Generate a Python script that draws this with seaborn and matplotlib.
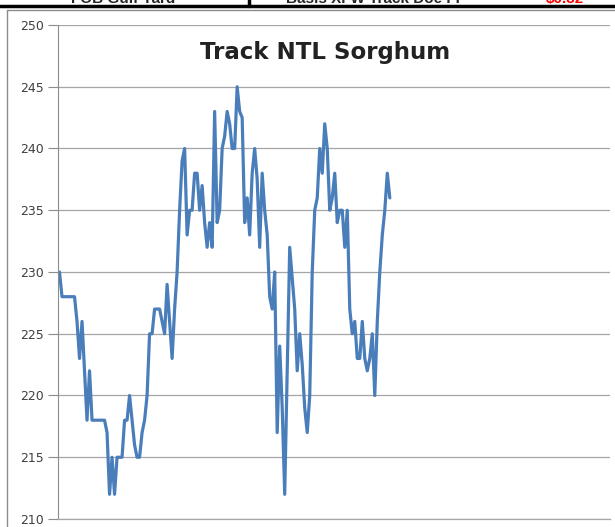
import pandas as pd
import matplotlib
matplotlib.use('Agg')
import matplotlib.pyplot as plt
import seaborn as sns

# prices, one per trading day
prices = [230, 228, 228, 228, 228, 228, 228, 226, 223, 226,
          222, 218, 222, 218, 218, 218, 218, 218, 218, 217,
          212, 215, 212, 215, 215, 215, 218, 218, 220, 218,
          216, 215, 215, 217, 218, 220, 225, 225, 227, 227,
          227, 226, 225, 229, 226, 223, 227, 230, 235, 239,
          240, 233, 235, 235, 238, 238, 235, 237, 234, 232,
          234, 232, 243, 234, 235, 240, 241, 243, 242, 240,
          240, 245, 243, 242.5, 234, 236, 233, 238, 240, 237.5,
          232, 238, 235, 233, 228, 227, 230, 217, 224, 219,
          212, 222, 232, 229.5, 227, 222, 225, 222.5, 219, 217,
          220, 230, 235, 236, 240, 238, 242, 240, 235, 236,
          238, 234, 235, 235, 232, 235, 227, 225, 226, 223,
          223, 226, 223, 222, 223, 225, 220, 226, 230, 233,
          235, 238, 236]
y_ticks = [210, 215, 220, 225, 230, 235, 240, 245, 250]

df = pd.DataFrame({'day': range(len(prices)), 'price': prices})

sns.set_style('white')
plt.rcParams['font.family'] = ['DejaVu Sans']

fig = plt.figure(figsize=(6.15, 5.27), dpi=100)
ax = fig.add_axes([58 / 615, 1 - 519 / 527, 552 / 615, 494 / 527])

sns.lineplot(data=df, x='day', y='price', color='#4A7EBB', linewidth=2.3, ax=ax)

ax.set_ylim(210, 250)
ax.set_xlim(-0.6, 220)
ax.set_yticks(y_ticks)
ax.set_yticklabels([str(t) for t in y_ticks], fontsize=9, color='#404040')
ax.set_xticks([])
ax.set_xlabel('')
ax.set_ylabel('')
ax.grid(axis='y', color='#A6A6A6', linewidth=0.9)
ax.tick_params(axis='y', length=7, width=0.8, color='#8C8C8C', pad=3, left=True)
for side in ['top', 'right']:
    ax.spines[side].set_visible(False)
ax.spines['left'].set_color('#8C8C8C')
ax.spines['left'].set_linewidth(0.8)
ax.spines['bottom'].set_color('#A6A6A6')
ax.spines['bottom'].set_linewidth(0.9)

fig.text(325 / 615, 1 - 53 / 527, 'Track NTL Sorghum', ha='center', va='center',
         fontsize=16.5, fontweight='bold', color='#222222')

# chart border and the cut-off table header above it
fig.add_artist(plt.Line2D([7 / 615, 7 / 615], [0, 1 - 10 / 527], color='#8C8C8C', lw=1))
fig.add_artist(plt.Line2D([7 / 615, 1], [1 - 10 / 527, 1 - 10 / 527], color='#8C8C8C', lw=1))
fig.add_artist(plt.Line2D([0, 1], [1 - 6 / 527, 1 - 6 / 527], color='black', lw=2.5))
fig.add_artist(plt.Line2D([249 / 615, 249 / 615], [1 - 6 / 527, 1], color='black', lw=2.5))
fig.text(123 / 615, 1 - 3 / 527, 'FOB Gulf Yard', ha='center', va='baseline',
         fontsize=11, fontweight='bold', family='Liberation Sans')
fig.text(375 / 615, 1 - 3 / 527, 'Basis XFW Track Doe FF', ha='center', va='baseline',
         fontsize=11, fontweight='bold', family='Liberation Sans')
fig.text(565 / 615, 1 - 3 / 527, '$0.32', ha='center', va='baseline',
         fontsize=11, fontweight='bold', color='red', family='Liberation Sans')

fig.savefig('out.png', dpi=100)
